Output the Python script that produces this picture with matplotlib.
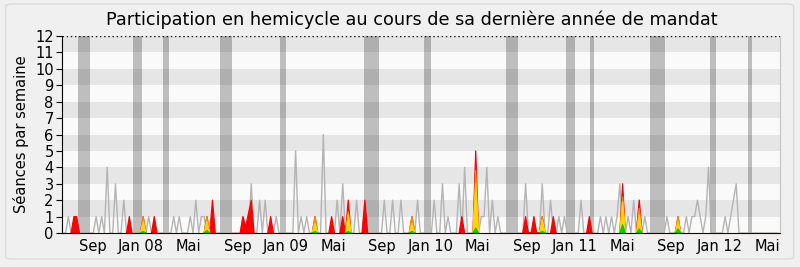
import datetime as dt
import numpy as np
import matplotlib
matplotlib.use("Agg")
import matplotlib.pyplot as plt
from matplotlib.patches import FancyBboxPatch

# weekly series, week 0 = week of 18 June 2007
n_weeks = 259
start = dt.date(2007, 6, 18)

# grey line: median presence of all deputies (week -> sessions)
median_weeks = [2, 12, 14, 16, 19, 22, 31, 40, 42, 46, 48, 50, 51, 65, 68, 71, 73, 77,
                84, 86, 88, 94, 99, 101, 106, 109, 116, 119, 122, 128, 134, 137, 139,
                143, 145, 151, 152, 153, 155, 157, 167, 173, 176, 179, 181, 187, 194,
                196, 198, 200, 201, 204, 206, 208, 210, 218, 225, 227, 228, 229, 230,
                232, 233, 239, 241, 242, 243]
median_vals = [1, 1, 1, 4, 3, 2, 1, 1, 1, 1, 2, 1, 1, 1, 3, 2, 2, 1,
               5, 1, 1, 6, 2, 3, 2, 2, 2, 2, 2, 2, 2, 3, 1,
               3, 4, 1, 1, 4, 2, 1, 3, 3, 2, 1, 1, 2, 1,
               1, 1, 1, 3, 1, 2, 2, 1, 1, 1, 1, 1, 2, 1,
               1, 4, 1, 1, 2, 3]

# red: detected presence of the deputy
presence_weeks = [4, 5, 24, 29, 33, 52, 54, 65, 66, 67, 68, 75, 91, 97, 101, 103, 109,
                  126, 144, 149, 167, 170, 173, 177, 190, 202, 208, 222]
presence_vals = [1, 1, 1, 1, 1, 1, 2, 1, 0.4, 1.2, 2, 1, 1, 1, 1, 2, 2,
                 1, 1, 5, 1, 1, 1, 1, 1, 3, 2, 1]

# orange / yellow / green: participations, interventions, questions
inter_weeks = [29, 52, 91, 103, 126, 149, 173, 202, 208, 222]
particip_vals = [1, 1, 1, 1.3, 1, 3.8, 1, 2.2, 1.5, 1]
interv_vals = [0.7, 0.7, 0.6, 1.1, 0.6, 3.0, 0.8, 1.9, 1.1, 0.7]
question_vals = [0.1, 0.15, 0.1, 0.1, 0.1, 0.3, 0.1, 0.5, 0.25, 0.25]

# parliamentary holidays (start week, end week)
holiday_start = [5.5, 25.3, 36.2, 56.7, 78.4, 108.7, 130.4, 160.0, 181.6, 190.3, 211.9, 233.5, 247.3]
holiday_end = [9.8, 28.6, 38.3, 61.1, 80.5, 114.1, 132.9, 164.3, 184.8, 191.7, 217.3, 235.7, 248.7]

tick_dates = [dt.date(2007, 9, 1), dt.date(2008, 1, 1), dt.date(2008, 5, 1),
              dt.date(2008, 9, 1), dt.date(2009, 1, 1), dt.date(2009, 5, 1),
              dt.date(2009, 9, 1), dt.date(2010, 1, 1), dt.date(2010, 5, 1),
              dt.date(2010, 9, 1), dt.date(2011, 1, 1), dt.date(2011, 5, 1),
              dt.date(2011, 9, 1), dt.date(2012, 1, 1), dt.date(2012, 5, 1)]
tick_labels = ["Sep", "Jan 08", "Mai", "Sep", "Jan 09", "Mai", "Sep", "Jan 10", "Mai",
               "Sep", "Jan 11", "Mai", "Sep", "Jan 12", "Mai"]


def to_series(weeks, vals):
    s = np.zeros(n_weeks)
    s[np.array(weeks)] = vals
    return s


weeks = np.arange(n_weeks)
median = to_series(median_weeks, median_vals)
presence = to_series(presence_weeks, presence_vals)
particip = to_series(inter_weeks, particip_vals)
interv = to_series(inter_weeks, interv_vals)
questions = to_series(inter_weeks, question_vals)

fig = plt.figure(figsize=(8, 2.67), dpi=100, facecolor="#f0f0f0")
fig.patches.append(FancyBboxPatch((0.007, 0.03), 0.985, 0.955, boxstyle="round,pad=0,rounding_size=0.008",
                                  transform=fig.transFigure, facecolor="none",
                                  edgecolor="#dadada", lw=1))
ax = fig.add_axes([0.0775, 0.1273, 0.8975, 0.7378])
ax.set_facecolor("#fafafa")

# horizontal stripes
for k in range(1, 12, 2):
    ax.axhspan(k, k + 1, color="#e6e6e6", lw=0, zorder=0)

for a, b in zip(holiday_start, holiday_end):
    ax.axvspan(a, b, color="black", alpha=0.24, lw=0, zorder=1)

ax.plot(weeks, median, color="#b4b4b4", lw=1, zorder=2)
layers = [(presence, "#ff0000"), (particip, "#ff8c00"), (interv, "#ffd700"), (questions, "#00cc00")]
for z, (vals, col) in enumerate(layers):
    nz = vals > 0
    mask = nz | np.roll(nz, 1) | np.roll(nz, -1)
    ax.fill_between(weeks, vals, where=mask, color=col, edgecolor=col, lw=0.9, zorder=3 + z)

ax.axhline(12, color="black", ls=(0, (1, 2)), lw=1, zorder=7)

ax.set_xlim(-0.3, 258.8)
ax.set_ylim(0, 12)
ax.set_yticks(range(13))
ax.tick_params(axis="y", labelsize=10.5, length=4, pad=2)
tick_pos = [(d - start).days / 7 for d in tick_dates]
ax.set_xticks(tick_pos)
ax.set_xticklabels(tick_labels)
ax.tick_params(axis="x", labelsize=10.5, length=0, pad=4)

ax.spines["top"].set_visible(False)
ax.spines["right"].set_color("#c4c4c4")
ax.spines["left"].set_color("black")
ax.spines["bottom"].set_color("#200000")
ax.spines["bottom"].set_zorder(8)

ax.set_ylabel("Séances par semaine", fontsize=10.5, labelpad=4)
fig.text(0.515, 0.925, "Participation en hemicycle au cours de sa dernière année de mandat",
         ha="center", va="center", fontsize=12.7)

fig.savefig("out.png", dpi=100, facecolor=fig.get_facecolor())
